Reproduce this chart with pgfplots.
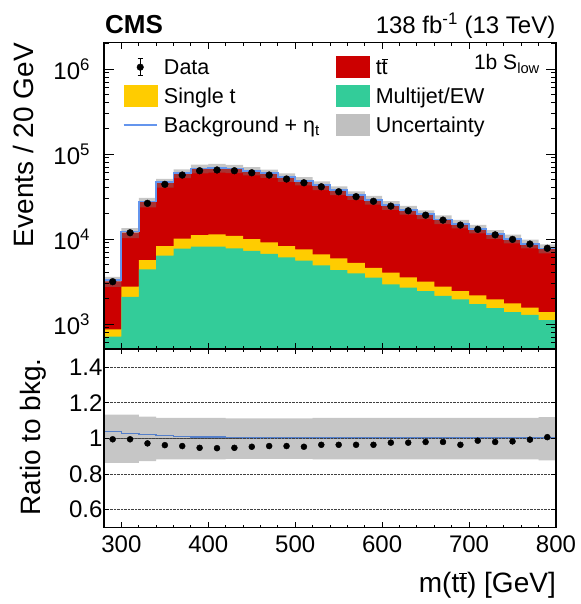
\documentclass[border=0pt]{standalone}
\usepackage{fontspec}
\setmainfont{Liberation Sans}
\usepackage{pgfplots}
\pgfplotsset{compat=1.18}
\definecolor{cmsred}{RGB}{204,0,0}
\definecolor{cmsyellow}{RGB}{255,204,0}
\definecolor{cmsgreen}{RGB}{51,204,153}
\definecolor{cmsgray}{RGB}{192,192,192}
\definecolor{cmsblue}{RGB}{100,149,237}
\definecolor{bandgray}{RGB}{120,120,120}
\begin{document}
\begin{tikzpicture}
\useasboundingbox (0pt,0pt) rectangle (580pt,604pt);
% ---------------- top panel ----------------
\begin{axis}[
  at={(104pt,255pt)}, anchor=south west, scale only axis,
  width=452pt, height=306.3pt,
  xmin=280, xmax=800, ymode=log, ymin=509, ymax=2.04e6,
  axis on top,
  xtick={300,400,500,600,700,800}, xticklabels={},
  minor xtick={280,320,340,360,380,420,440,460,480,520,540,560,580,620,640,660,680,720,740,760,780},
  ytick={1000,10000,100000,1000000},
  yticklabels={10\textsuperscript{3},10\textsuperscript{4},10\textsuperscript{5},10\textsuperscript{6}},
  minor ytick={600,700,800,900,2000,3000,4000,5000,6000,7000,8000,9000,20000,30000,40000,50000,60000,70000,80000,90000,200000,300000,400000,500000,600000,700000,800000,900000,2000000},
  tick align=inside, tick pos=both,
  major tick length=10pt, minor tick length=5pt,
  xtick style={/pgfplots/major tick length=6pt,/pgfplots/minor tick length=3pt},
  tick style={black, line width=0.9pt},
  axis line style={line width=1.5pt},
  ticklabel style={font=\fontsize{24}{24}\selectfont},
  yticklabel style={xshift=-10.5pt},
  legend columns=2, legend cell align=left,
  legend style={at={(0.042,0.955)}, anchor=north west, draw=none, fill=none,
    inner sep=0pt, outer sep=0pt, font=\fontsize{21.5}{21.5}\selectfont,
    row sep=7.5pt,
    nodes={inner xsep=0pt, inner ysep=0pt, text height=15.5pt, text depth=0pt},
    /tikz/every odd column/.append style={column sep=6.5pt},
    /tikz/every even column/.append style={column sep=16pt}},
]
% ttbar (top of stack = total background)
\addplot[fill=cmsred, draw=none, const plot mark left, forget plot] coordinates {
(280,100)(280,3170)(300,11900)(320,27100)(340,45700)(360,59100)(380,67200)(400,68700)(420,67200)(440,63200)(460,59100)(480,53100)(500,48200)(520,42700)(540,37300)(560,32700)(580,28800)(600,25000)(620,22000)(640,19500)(660,17000)(680,15100)(700,13200)(720,11400)(740,10100)(760,8800)(780,7740)(800,7740)(800,100)};
% single t (stacked on multijet)
\addplot[fill=cmsyellow, draw=none, const plot mark left, forget plot] coordinates {
(280,100)(280,867)(300,2750)(320,5660)(340,8280)(360,10100)(380,11100)(400,11350)(420,10900)(440,10000)(460,9140)(480,8280)(500,7570)(520,6610)(540,5930)(560,5260)(580,4590)(600,4020)(620,3540)(640,3150)(660,2750)(680,2440)(700,2180)(720,1950)(740,1750)(760,1560)(780,1380)(800,1380)(800,100)};
% multijet / EW
\addplot[fill=cmsgreen, draw=none, const plot mark left, forget plot] coordinates {
(280,100)(280,710)(300,2095)(320,4400)(340,6370)(360,7700)(380,8130)(400,8130)(420,7760)(440,7270)(460,6670)(480,6100)(500,5560)(520,4900)(540,4310)(560,3950)(580,3510)(600,2930)(620,2680)(640,2440)(660,2150)(680,1950)(700,1720)(720,1540)(740,1380)(760,1280)(780,1110)(800,1110)(800,100)};
% uncertainty band
\addplot[fill=bandgray, fill opacity=0.42, draw=none, const plot mark left, forget plot] coordinates {
(280,3592)(300,13483)(320,30406)(340,50956)(360,65897)(380,74928)(400,76601)(420,74726)(440,70278)(460,65719)(480,59047)(500,53598)(520,47611)(540,41590)(560,36461)(580,32112)(600,27875)(620,24530)(640,21743)(660,18955)(680,16837)(700,14718)(720,12711)(740,11262)(760,9812)(780,8669)(800,8669)
(800,6780)(780,7762)(760,8908)(740,10055)(720,11642)(700,13318)(680,14994)(660,17199)(640,19404)(620,22050)(600,25402)(580,28841)(560,32899)(540,37661)(520,42657)(500,46994)(480,52304)(460,55932)(440,59472)(420,60593)(400,59270)(380,52126)(360,40307)(340,23631)(320,10270)(300,2736)(280,2736)};
% background + eta_t
\addplot[cmsblue, line width=1.8pt, const plot mark left, forget plot] coordinates {
(280,100)(280,3294)(300,12233)(320,27696)(340,46477)(360,59750)(380,67670)(400,69181)(420,67469)(440,63390)(460,59277)(480,53259)(500,48296)(520,42785)(540,37375)(560,32765)(580,28858)(600,25025)(620,22022)(640,19520)(660,17017)(680,15115)(700,13213)(720,11411)(740,10110)(760,8809)(780,7748)(800,7748)(800,100)};
% data
\addplot[only marks, mark=*, mark size=3.4pt, black, forget plot] coordinates {
(290,3150)(310,11860)(330,26300)(350,44000)(370,56600)(390,63600)(410,64900)(430,63600)(450,60200)(470,56600)(490,50800)(510,45900)(530,41200)(550,36000)(570,31500)(590,27800)(610,24400)(630,21500)(650,19100)(670,16700)(690,14600)(710,13000)(730,11200)(750,9910)(770,8730)(790,7790)};
% legend
\addlegendimage{legend image code/.code={\draw[black, line width=1pt] (16.5pt,-8.5pt) -- (16.5pt,8.5pt); \draw[black, line width=1pt] (14pt,-8.5pt) -- (19pt,-8.5pt) (14pt,8.5pt) -- (19pt,8.5pt); \fill[black] (16.5pt,0pt) circle (3.3pt); \path[draw=none, fill=none] (0pt,-10.5pt) rectangle (33pt,10.5pt);}}
\addlegendentry{Data}
\addlegendimage{legend image code/.code={\fill[cmsred] (0pt,-10.5pt) rectangle (33pt,10.5pt);}}
\addlegendentry{t$\overline{\mbox{t}}$}
\addlegendimage{legend image code/.code={\fill[cmsyellow] (0pt,-10.5pt) rectangle (33pt,10.5pt);}}
\addlegendentry{Single t}
\addlegendimage{legend image code/.code={\fill[cmsgreen] (0pt,-10.5pt) rectangle (33pt,10.5pt);}}
\addlegendentry{Multijet/EW}
\addlegendimage{legend image code/.code={\draw[cmsblue, line width=1.5pt] (0pt,0pt) -- (33pt,0pt); \path[draw=none, fill=none] (0pt,-10.5pt) rectangle (33pt,10.5pt);}}
\addlegendentry{Background + η\textsubscript{t}}
\addlegendimage{legend image code/.code={\fill[cmsgray] (0pt,-10.5pt) rectangle (33pt,10.5pt);}}
\addlegendentry{Uncertainty}
\end{axis}
% ---------------- ratio panel ----------------
\begin{axis}[
  at={(104pt,76.7pt)}, anchor=south west, scale only axis,
  width=452pt, height=177.8pt,
  xmin=280, xmax=800, ymin=0.5, ymax=1.5,
  axis on top,
  xtick={300,400,500,600,700,800}, xticklabels={300,400,500,600,700,800},
  minor xtick={280,320,340,360,380,420,440,460,480,520,540,560,580,620,640,660,680,720,740,760,780},
  ytick={0.6,0.8,1,1.2,1.4}, yticklabels={0.6,0.8,1,1.2,1.4},
  tick align=inside, tick pos=both,
  major tick length=5pt, minor tick length=2.5pt,
  tick style={black, line width=0.9pt},
  axis line style={line width=1.5pt},
  ticklabel style={font=\fontsize{24}{24}\selectfont},
  xticklabel style={yshift=-4.5pt},
  yticklabel style={xshift=2pt},
  ymajorgrids, grid style={densely dotted, black!75, line width=0.7pt},
]
\addplot[fill=bandgray, fill opacity=0.42, draw=none, const plot mark left] coordinates {
(280,1.133)(300,1.133)(320,1.122)(340,1.115)(360,1.115)(380,1.115)(400,1.115)(420,1.112)(440,1.112)(460,1.112)(480,1.112)(500,1.112)(520,1.115)(540,1.115)(560,1.115)(580,1.115)(600,1.115)(620,1.115)(640,1.115)(660,1.115)(680,1.115)(700,1.115)(720,1.115)(740,1.115)(760,1.115)(780,1.12)(800,1.12)
(800,0.876)(780,0.882)(760,0.882)(740,0.882)(720,0.882)(700,0.882)(680,0.882)(660,0.882)(640,0.882)(620,0.882)(600,0.882)(580,0.882)(560,0.882)(540,0.882)(520,0.885)(500,0.885)(480,0.885)(460,0.885)(440,0.885)(420,0.882)(400,0.882)(380,0.882)(360,0.882)(340,0.872)(320,0.863)(300,0.863)(280,0.863)};
\addplot[black!65, line width=1pt] coordinates {(280,1)(800,1)};
\addplot[cmsblue!85!black, line width=1.6pt, const plot mark left] coordinates {
(280,1.039)(300,1.028)(320,1.022)(340,1.017)(360,1.011)(380,1.007)(400,1.007)(420,1.004)(440,1.003)(460,1.003)(480,1.003)(500,1.002)(520,1.002)(540,1.002)(560,1.002)(580,1.002)(600,1.001)(620,1.001)(640,1.001)(660,1.001)(680,1.001)(700,1.001)(720,1.001)(740,1.001)(760,1.001)(780,1.001)(800,1.001)};
\addplot[only marks, mark=*, mark size=3pt, black] coordinates {
(290,0.995)(310,0.995)(330,0.972)(350,0.962)(370,0.957)(390,0.947)(410,0.945)(430,0.947)(450,0.953)(470,0.957)(490,0.957)(510,0.953)(530,0.964)(550,0.964)(570,0.964)(590,0.964)(610,0.976)(630,0.976)(650,0.98)(670,0.98)(690,0.964)(710,0.987)(730,0.98)(750,0.983)(770,0.993)(790,1.007)};
\end{axis}
% ---------------- texts ----------------
\node[anchor=base west, inner sep=0pt, font=\bfseries\fontsize{26}{26}\selectfont] at (105pt,570.7pt) {CMS};
\node[anchor=base east, inner sep=0pt, font=\fontsize{24}{24}\selectfont] at (555.5pt,570.7pt) {138 fb\textsuperscript{-1} (13 TeV)};
\node[anchor=base east, inner sep=0pt, font=\fontsize{21}{21}\selectfont] at (540pt,534pt) {1b S\textsubscript{low}};
\node[rotate=90, anchor=base east, inner sep=0pt, font=\fontsize{28}{28}\selectfont] at (33pt,561pt) {Events / 20 GeV};
\node[rotate=90, anchor=base east, inner sep=0pt, font=\fontsize{28}{28}\selectfont] at (40pt,246pt) {Ratio to bkg.};
\node[anchor=base east, inner sep=0pt, font=\fontsize{28}{28}\selectfont] at (556pt,11pt) {m(t$\overline{\mbox{t}}$) [GeV]};
\end{tikzpicture}
\end{document}
